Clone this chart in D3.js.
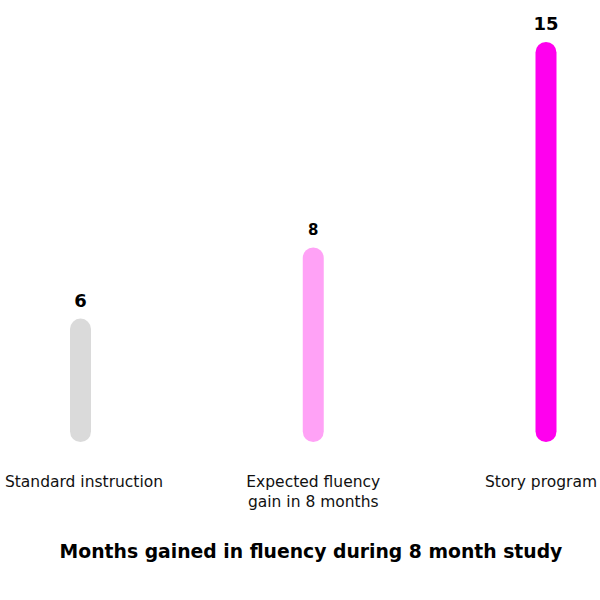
<!DOCTYPE html>
<html>
<head>
<meta charset="utf-8">
<script src="https://cdn.jsdelivr.net/npm/d3@7"></script>
<style>
  body { margin: 0; background: #fff; }
  text { font-family: "DejaVu Sans", "Noto Sans", sans-serif; }
</style>
</head>
<body>
<svg id="chart" width="600" height="600"></svg>
<script>
const categories = ["Standard instruction", "Expected fluency|gain in 8 months", "Story program"];
const values = [6, 8, 15];
const colors = ["#dadada", "#ffa2f6", "#ff00ee"];
const valueLabelSizes = [18, 15, 18];
const title = "Months gained in fluency during 8 month study";

(function () {
const svg = d3.select("#chart");
const baseline = 442, topY = 42;
const barW = 21;

const x = d3.scalePoint().domain(categories).range([80.5, 546]);
const y = d3.scalePow().exponent(0.6).domain([3.1, 15]).range([baseline, topY]);

const data = categories.map((c, i) => ({ c, v: values[i], color: colors[i], fs: valueLabelSizes[i] }));

svg.selectAll("rect.bar").data(data).join("rect")
  .attr("class", "bar")
  .attr("x", d => x(d.c) - barW / 2)
  .attr("width", barW)
  .attr("y", d => y(d.v))
  .attr("height", d => baseline - y(d.v))
  .attr("rx", barW / 2)
  .attr("fill", d => d.color);

svg.selectAll("text.val").data(data).join("text")
  .attr("class", "val")
  .attr("x", d => x(d.c))
  .attr("y", d => y(d.v) - 12)
  .attr("text-anchor", "middle")
  .attr("font-weight", 700)
  .attr("font-size", d => d.fs)
  .attr("fill", "#000")
  .text(d => d.v);

const cat = svg.selectAll("text.cat").data(data).join("text")
  .attr("class", "cat")
  .attr("y", 487)
  .attr("text-anchor", "middle")
  .attr("font-size", 15.5)
  .attr("fill", "#111");
cat.selectAll("tspan").data(d => d.c.split("|").map(t => ({ t, x: Math.min(Math.max(x(d.c), 84), 541) }))).join("tspan")
  .attr("x", t => t.x)
  .attr("dy", (t, i) => i === 0 ? 0 : 20)
  .text(t => t.t);

svg.append("text")
  .attr("x", 311)
  .attr("y", 558)
  .attr("text-anchor", "middle")
  .attr("font-weight", 700)
  .attr("font-size", 18.8)
  .attr("fill", "#000")
  .text(title);
})();
</script>
</body>
</html>
